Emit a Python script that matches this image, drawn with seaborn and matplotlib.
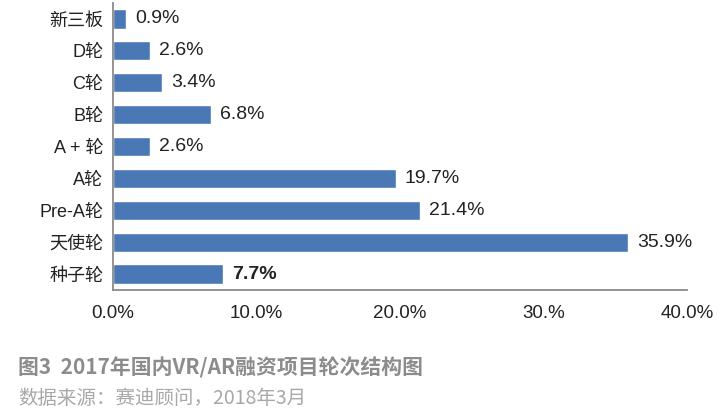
import matplotlib
matplotlib.use("Agg")
import matplotlib.pyplot as plt
import seaborn as sns
import pandas as pd

categories = ["新三板", "D轮", "C轮", "B轮", "A + 轮", "A轮", "Pre-A轮", "天使轮", "种子轮"]
values = [0.9, 2.6, 3.4, 6.8, 2.6, 19.7, 21.4, 35.9, 7.7]
xticks = [0, 10, 20, 30, 40]
xtick_labels = ["0.0%", "10.0%", "20.0%", "30.%", "40.0%"]
title = "图3  2017年国内VR/AR融资项目轮次结构图"
source = "数据来源：赛迪顾问，2018年3月"

sns.set_theme(style="white")
plt.rcParams['font.family'] = ['Liberation Sans', 'Noto Sans CJK SC', 'DejaVu Sans']

df = pd.DataFrame({"cat": categories, "val": values})

fig = plt.figure(figsize=(7.26, 4.18), dpi=100)
ax = fig.add_axes([113/726, 1-290/418, (687-113)/726, (290-3)/418])
sns.barplot(data=df, x="val", y="cat", color="#4a78b6", saturation=1, width=0.6, ax=ax)
ax.set_xlim(0, 40)
ax.set_ylim(8.5, -0.5)
ax.set_xticks(xticks)
ax.set_xticklabels(xtick_labels, fontsize=13.5, color="#222222")
ax.tick_params(axis="x", length=0, pad=11)
ax.tick_params(axis="y", length=0, pad=7, labelsize=13, labelcolor="#222222")
ax.set_xlabel("")
ax.set_ylabel("")
for s in ["top", "right"]:
    ax.spines[s].set_visible(False)
for s in ["left", "bottom"]:
    ax.spines[s].set_color("#8a8a8a")
    ax.spines[s].set_linewidth(1.3)

for i, v in enumerate(values):
    ax.annotate(f"{v}%", xy=(v, i), xytext=(6.5, 0), textcoords="offset points",
                ha="left", va="center", fontsize=14, color="#222222",
                fontweight="bold" if categories[i] == "种子轮" else "normal")

fig.text(18/726, 1-368/418, title, fontsize=15, fontweight="bold", color="#8c8c8c",
         ha="left", va="center", family=['Noto Sans CJK SC', 'DejaVu Sans'])
fig.text(18/726, 1-399/418, source, fontsize=14, color="#a8a8a8",
         ha="left", va="center", family=['Noto Sans CJK SC', 'DejaVu Sans'])

fig.savefig("out.png", dpi=100)
